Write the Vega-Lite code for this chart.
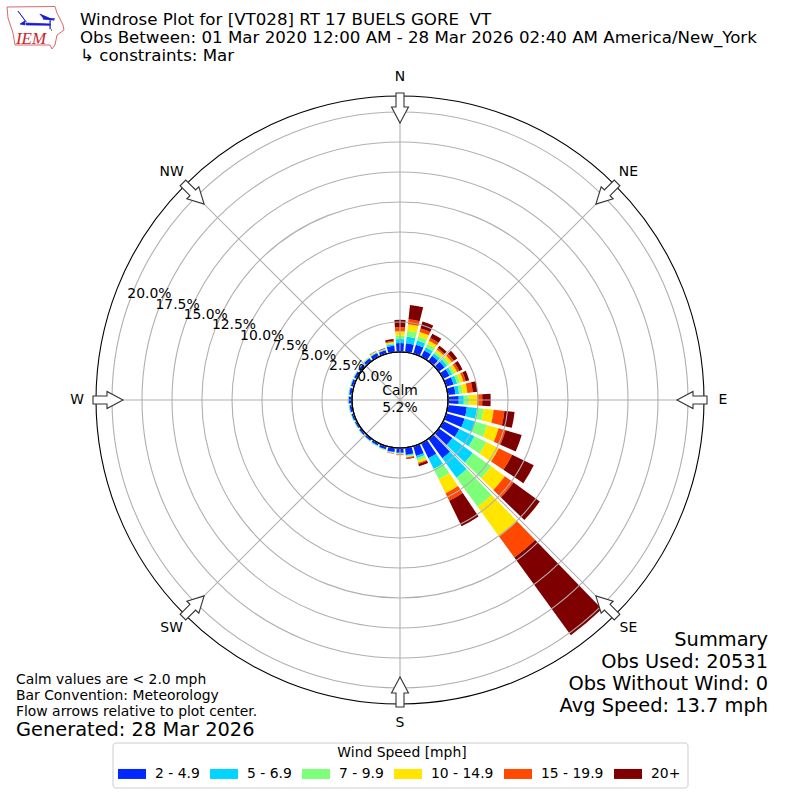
{
  "$schema": "https://vega.github.io/schema/vega-lite/v6.json",
  "width": 800,
  "height": 800,
  "padding": 0,
  "autosize": {"type": "none"},
  "background": "white",
  "config": {"view": {"stroke": null}, "font": "DejaVu Sans"},
  "datasets": {
    "dirs": [
      {"bearing": 0, "label": "N"}, {"bearing": 45, "label": "NE"}, {"bearing": 90, "label": "E"}, {"bearing": 135, "label": "SE"},
      {"bearing": 180, "label": "S"}, {"bearing": 225, "label": "SW"}, {"bearing": 270, "label": "W"}, {"bearing": 315, "label": "NW"}
    ],
    "rings": [
      {"pct": 0, "label": "0.0%", "bearing": 290}, {"pct": 2.5, "label": "2.5%", "bearing": 290}, {"pct": 5, "label": "5.0%", "bearing": 290},
      {"pct": 7.5, "label": "7.5%", "bearing": 290}, {"pct": 10, "label": "10.0%", "bearing": 290}, {"pct": 12.5, "label": "12.5%", "bearing": 290},
      {"pct": 15, "label": "15.0%", "bearing": 290}, {"pct": 17.5, "label": "17.5%", "bearing": 290}, {"pct": 20, "label": "20.0%", "bearing": 290}
    ],
    "bars": [
      {"dir":0,"speed":"2 - 4.9","low":2,"pct":0.75},{"dir":0,"speed":"5 - 6.9","low":5,"pct":0.33},{"dir":0,"speed":"7 - 9.9","low":7,"pct":0.3},{"dir":0,"speed":"10 - 14.9","low":10,"pct":0.35},{"dir":0,"speed":"15 - 19.9","low":15,"pct":0.35},{"dir":0,"speed":"20+","low":20,"pct":0.6},
      {"dir":10,"speed":"2 - 4.9","low":2,"pct":0.75},{"dir":10,"speed":"5 - 6.9","low":5,"pct":0.55},{"dir":10,"speed":"7 - 9.9","low":7,"pct":0.5},{"dir":10,"speed":"10 - 14.9","low":10,"pct":0.55},{"dir":10,"speed":"15 - 19.9","low":15,"pct":0.42},{"dir":10,"speed":"20+","low":20,"pct":1.2},
      {"dir":20,"speed":"2 - 4.9","low":2,"pct":0.8},{"dir":20,"speed":"5 - 6.9","low":5,"pct":0.35},{"dir":20,"speed":"7 - 9.9","low":7,"pct":0.35},{"dir":20,"speed":"10 - 14.9","low":10,"pct":0.4},{"dir":20,"speed":"15 - 19.9","low":15,"pct":0.3},{"dir":20,"speed":"20+","low":20,"pct":0.6},
      {"dir":30,"speed":"2 - 4.9","low":2,"pct":0.6},{"dir":30,"speed":"5 - 6.9","low":5,"pct":0.3},{"dir":30,"speed":"7 - 9.9","low":7,"pct":0.3},{"dir":30,"speed":"10 - 14.9","low":10,"pct":0.3},{"dir":30,"speed":"15 - 19.9","low":15,"pct":0.25},{"dir":30,"speed":"20+","low":20,"pct":0.4},
      {"dir":40,"speed":"2 - 4.9","low":2,"pct":0.55},{"dir":40,"speed":"5 - 6.9","low":5,"pct":0.25},{"dir":40,"speed":"7 - 9.9","low":7,"pct":0.2},{"dir":40,"speed":"10 - 14.9","low":10,"pct":0.2},{"dir":40,"speed":"15 - 19.9","low":15,"pct":0.15},{"dir":40,"speed":"20+","low":20,"pct":0.25},
      {"dir":50,"speed":"2 - 4.9","low":2,"pct":0.6},{"dir":50,"speed":"5 - 6.9","low":5,"pct":0.25},{"dir":50,"speed":"7 - 9.9","low":7,"pct":0.25},{"dir":50,"speed":"10 - 14.9","low":10,"pct":0.25},{"dir":50,"speed":"15 - 19.9","low":15,"pct":0.2},{"dir":50,"speed":"20+","low":20,"pct":0.35},
      {"dir":60,"speed":"2 - 4.9","low":2,"pct":0.6},{"dir":60,"speed":"5 - 6.9","low":5,"pct":0.25},{"dir":60,"speed":"7 - 9.9","low":7,"pct":0.2},{"dir":60,"speed":"10 - 14.9","low":10,"pct":0.25},{"dir":60,"speed":"15 - 19.9","low":15,"pct":0.2},{"dir":60,"speed":"20+","low":20,"pct":0.3},
      {"dir":70,"speed":"2 - 4.9","low":2,"pct":0.65},{"dir":70,"speed":"5 - 6.9","low":5,"pct":0.3},{"dir":70,"speed":"7 - 9.9","low":7,"pct":0.25},{"dir":70,"speed":"10 - 14.9","low":10,"pct":0.3},{"dir":70,"speed":"15 - 19.9","low":15,"pct":0.2},{"dir":70,"speed":"20+","low":20,"pct":0.3},
      {"dir":80,"speed":"2 - 4.9","low":2,"pct":0.65},{"dir":80,"speed":"5 - 6.9","low":5,"pct":0.3},{"dir":80,"speed":"7 - 9.9","low":7,"pct":0.3},{"dir":80,"speed":"10 - 14.9","low":10,"pct":0.4},{"dir":80,"speed":"15 - 19.9","low":15,"pct":0.45},{"dir":80,"speed":"20+","low":20,"pct":0.4},
      {"dir":90,"speed":"2 - 4.9","low":2,"pct":0.9},{"dir":90,"speed":"5 - 6.9","low":5,"pct":0.42},{"dir":90,"speed":"7 - 9.9","low":7,"pct":0.42},{"dir":90,"speed":"10 - 14.9","low":10,"pct":0.7},{"dir":90,"speed":"15 - 19.9","low":15,"pct":0.42},{"dir":90,"speed":"20+","low":20,"pct":0.7},
      {"dir":100,"speed":"2 - 4.9","low":2,"pct":1.6},{"dir":100,"speed":"5 - 6.9","low":5,"pct":0.85},{"dir":100,"speed":"7 - 9.9","low":7,"pct":0.55},{"dir":100,"speed":"10 - 14.9","low":10,"pct":0.85},{"dir":100,"speed":"15 - 19.9","low":15,"pct":0.9},{"dir":100,"speed":"20+","low":20,"pct":0.85},
      {"dir":110,"speed":"2 - 4.9","low":2,"pct":1.6},{"dir":110,"speed":"5 - 6.9","low":5,"pct":0.95},{"dir":110,"speed":"7 - 9.9","low":7,"pct":1.0},{"dir":110,"speed":"10 - 14.9","low":10,"pct":1.0},{"dir":110,"speed":"15 - 19.9","low":15,"pct":0.6},{"dir":110,"speed":"20+","low":20,"pct":1.4},
      {"dir":120,"speed":"2 - 4.9","low":2,"pct":1.5},{"dir":120,"speed":"5 - 6.9","low":5,"pct":1.4},{"dir":120,"speed":"7 - 9.9","low":7,"pct":1.1},{"dir":120,"speed":"10 - 14.9","low":10,"pct":1.15},{"dir":120,"speed":"15 - 19.9","low":15,"pct":1.25},{"dir":120,"speed":"20+","low":20,"pct":2.0},
      {"dir":130,"speed":"2 - 4.9","low":2,"pct":1.4},{"dir":130,"speed":"5 - 6.9","low":5,"pct":2.1},{"dir":130,"speed":"7 - 9.9","low":7,"pct":1.9},{"dir":130,"speed":"10 - 14.9","low":10,"pct":1.4},{"dir":130,"speed":"15 - 19.9","low":15,"pct":0.9},{"dir":130,"speed":"20+","low":20,"pct":2.7},
      {"dir":140,"speed":"2 - 4.9","low":2,"pct":2.0},{"dir":140,"speed":"5 - 6.9","low":5,"pct":2.0},{"dir":140,"speed":"7 - 9.9","low":7,"pct":3.0},{"dir":140,"speed":"10 - 14.9","low":10,"pct":3.05},{"dir":140,"speed":"15 - 19.9","low":15,"pct":2.17},{"dir":140,"speed":"20+","low":20,"pct":8.0},
      {"dir":150,"speed":"2 - 4.9","low":2,"pct":1.4},{"dir":150,"speed":"5 - 6.9","low":5,"pct":1.0},{"dir":150,"speed":"7 - 9.9","low":7,"pct":0.95},{"dir":150,"speed":"10 - 14.9","low":10,"pct":1.3},{"dir":150,"speed":"15 - 19.9","low":15,"pct":0.7},{"dir":150,"speed":"20+","low":20,"pct":2.35},
      {"dir":160,"speed":"2 - 4.9","low":2,"pct":0.85},{"dir":160,"speed":"5 - 6.9","low":5,"pct":0.2},{"dir":160,"speed":"7 - 9.9","low":7,"pct":0.2},{"dir":160,"speed":"10 - 14.9","low":10,"pct":0.2},{"dir":160,"speed":"15 - 19.9","low":15,"pct":0.1},{"dir":160,"speed":"20+","low":20,"pct":0.2},
      {"dir":170,"speed":"2 - 4.9","low":2,"pct":0.6},{"dir":170,"speed":"5 - 6.9","low":5,"pct":0.08},{"dir":170,"speed":"7 - 9.9","low":7,"pct":0.07},{"dir":170,"speed":"10 - 14.9","low":10,"pct":0.07},{"dir":170,"speed":"15 - 19.9","low":15,"pct":0.08},{"dir":170,"speed":"20+","low":20,"pct":0.05},
      {"dir":180,"speed":"2 - 4.9","low":2,"pct":0.4},{"dir":180,"speed":"5 - 6.9","low":5,"pct":0.05},{"dir":180,"speed":"7 - 9.9","low":7,"pct":0.05},{"dir":180,"speed":"10 - 14.9","low":10,"pct":0.04},{"dir":180,"speed":"15 - 19.9","low":15,"pct":0.06},
      {"dir":190,"speed":"2 - 4.9","low":2,"pct":0.35},{"dir":190,"speed":"5 - 6.9","low":5,"pct":0.05},{"dir":190,"speed":"7 - 9.9","low":7,"pct":0.04},{"dir":190,"speed":"10 - 14.9","low":10,"pct":0.03},{"dir":190,"speed":"15 - 19.9","low":15,"pct":0.03},
      {"dir":200,"speed":"2 - 4.9","low":2,"pct":0.28},{"dir":200,"speed":"5 - 6.9","low":5,"pct":0.04},{"dir":200,"speed":"7 - 9.9","low":7,"pct":0.03},{"dir":200,"speed":"10 - 14.9","low":10,"pct":0.03},
      {"dir":210,"speed":"2 - 4.9","low":2,"pct":0.22},{"dir":210,"speed":"5 - 6.9","low":5,"pct":0.04},{"dir":210,"speed":"7 - 9.9","low":7,"pct":0.04},
      {"dir":220,"speed":"2 - 4.9","low":2,"pct":0.2},{"dir":220,"speed":"5 - 6.9","low":5,"pct":0.04},{"dir":220,"speed":"7 - 9.9","low":7,"pct":0.03},{"dir":220,"speed":"10 - 14.9","low":10,"pct":0.01},
      {"dir":230,"speed":"2 - 4.9","low":2,"pct":0.2},{"dir":230,"speed":"5 - 6.9","low":5,"pct":0.04},{"dir":230,"speed":"7 - 9.9","low":7,"pct":0.02},{"dir":230,"speed":"10 - 14.9","low":10,"pct":0.01},
      {"dir":240,"speed":"2 - 4.9","low":2,"pct":0.18},{"dir":240,"speed":"5 - 6.9","low":5,"pct":0.04},{"dir":240,"speed":"7 - 9.9","low":7,"pct":0.02},{"dir":240,"speed":"10 - 14.9","low":10,"pct":0.01},
      {"dir":250,"speed":"2 - 4.9","low":2,"pct":0.2},{"dir":250,"speed":"5 - 6.9","low":5,"pct":0.04},{"dir":250,"speed":"7 - 9.9","low":7,"pct":0.02},{"dir":250,"speed":"10 - 14.9","low":10,"pct":0.01},
      {"dir":260,"speed":"2 - 4.9","low":2,"pct":0.22},{"dir":260,"speed":"5 - 6.9","low":5,"pct":0.05},{"dir":260,"speed":"7 - 9.9","low":7,"pct":0.03},{"dir":260,"speed":"10 - 14.9","low":10,"pct":0.02},
      {"dir":270,"speed":"2 - 4.9","low":2,"pct":0.27},{"dir":270,"speed":"5 - 6.9","low":5,"pct":0.05},{"dir":270,"speed":"7 - 9.9","low":7,"pct":0.03},{"dir":270,"speed":"10 - 14.9","low":10,"pct":0.02},
      {"dir":280,"speed":"2 - 4.9","low":2,"pct":0.25},{"dir":280,"speed":"5 - 6.9","low":5,"pct":0.05},{"dir":280,"speed":"7 - 9.9","low":7,"pct":0.03},{"dir":280,"speed":"10 - 14.9","low":10,"pct":0.02},
      {"dir":290,"speed":"2 - 4.9","low":2,"pct":0.25},{"dir":290,"speed":"5 - 6.9","low":5,"pct":0.05},{"dir":290,"speed":"7 - 9.9","low":7,"pct":0.03},{"dir":290,"speed":"10 - 14.9","low":10,"pct":0.02},
      {"dir":300,"speed":"2 - 4.9","low":2,"pct":0.25},{"dir":300,"speed":"5 - 6.9","low":5,"pct":0.05},{"dir":300,"speed":"7 - 9.9","low":7,"pct":0.03},{"dir":300,"speed":"10 - 14.9","low":10,"pct":0.02},
      {"dir":310,"speed":"2 - 4.9","low":2,"pct":0.28},{"dir":310,"speed":"5 - 6.9","low":5,"pct":0.05},{"dir":310,"speed":"7 - 9.9","low":7,"pct":0.03},{"dir":310,"speed":"10 - 14.9","low":10,"pct":0.02},
      {"dir":320,"speed":"2 - 4.9","low":2,"pct":0.3},{"dir":320,"speed":"5 - 6.9","low":5,"pct":0.05},{"dir":320,"speed":"7 - 9.9","low":7,"pct":0.04},{"dir":320,"speed":"10 - 14.9","low":10,"pct":0.03},
      {"dir":330,"speed":"2 - 4.9","low":2,"pct":0.35},{"dir":330,"speed":"5 - 6.9","low":5,"pct":0.06},{"dir":330,"speed":"7 - 9.9","low":7,"pct":0.05},{"dir":330,"speed":"10 - 14.9","low":10,"pct":0.05},{"dir":330,"speed":"15 - 19.9","low":15,"pct":0.02},{"dir":330,"speed":"20+","low":20,"pct":0.02},
      {"dir":340,"speed":"2 - 4.9","low":2,"pct":0.32},{"dir":340,"speed":"5 - 6.9","low":5,"pct":0.05},{"dir":340,"speed":"7 - 9.9","low":7,"pct":0.04},{"dir":340,"speed":"10 - 14.9","low":10,"pct":0.03},{"dir":340,"speed":"15 - 19.9","low":15,"pct":0.03},{"dir":340,"speed":"20+","low":20,"pct":0.03},
      {"dir":350,"speed":"2 - 4.9","low":2,"pct":0.55},{"dir":350,"speed":"5 - 6.9","low":5,"pct":0.12},{"dir":350,"speed":"7 - 9.9","low":7,"pct":0.1},{"dir":350,"speed":"10 - 14.9","low":10,"pct":0.1},{"dir":350,"speed":"15 - 19.9","low":15,"pct":0.1},{"dir":350,"speed":"20+","low":20,"pct":0.15}
    ]
  },
  "resolve": {"scale": {"theta": "independent"}},
  "layer": [
    {
      "data": {"name": "bars"},
      "transform": [{"stack": "pct", "groupby": ["dir"], "sort": [{"field": "low", "order": "ascending"}], "as": ["r0", "r1"]}],
      "mark": {"type": "arc"},
      "encoding": {
        "theta": {"field": "dir", "type": "ordinal", "stack": null, "scale": {"type": "band", "domain": [0,10,20,30,40,50,60,70,80,90,100,110,120,130,140,150,160,170,180,190,200,210,220,230,240,250,260,270,280,290,300,310,320,330,340,350], "range": [-0.08727, 6.19592], "paddingInner": 0.2, "paddingOuter": 0.1}},
        "radius": {"field": "r1", "type": "quantitative", "stack": null, "scale": {"type": "linear", "domain": [-4, 21.333], "range": [0, 304], "zero": false}},
        "radius2": {"field": "r0"},
        "color": {
          "field": "speed", "type": "nominal",
          "scale": {"domain": ["2 - 4.9", "5 - 6.9", "7 - 9.9", "10 - 14.9", "15 - 19.9", "20+"], "range": ["#0028ff", "#00d4ff", "#7dff7a", "#ffe500", "#ff4800", "#7f0000"]},
          "legend": {
            "title": "Wind Speed [mph]", "orient": "none", "legendX": 124, "legendY": 746, "direction": "horizontal", "columns": 6,
            "titleAnchor": "middle", "titleFontWeight": "normal", "titleFontSize": 13.9, "titleFont": "DejaVu Sans", "titleColor": "black", "titlePadding": 6,
            "labelFontSize": 13.9, "labelFont": "DejaVu Sans", "labelColor": "black", "labelOffset": 15, "columnPadding": 10,
            "symbolType": "M-1.75,-0.625H1.75V0.625H-1.75Z", "symbolSize": 256, "symbolStrokeWidth": 0, "symbolOpacity": 1,
            "padding": 0
          }
        }
      }
    },
    {
      "data": {"name": "rings"},
      "mark": {"type": "arc", "theta": 0, "theta2": 6.2832, "fill": null, "stroke": "#b0b0b0", "strokeWidth": 1.1},
      "encoding": {"radius": {"field": "pct", "type": "quantitative", "stack": null}}
    },
    {
      "data": {"name": "dirs"},
      "mark": {"type": "point", "filled": false, "opacity": 1, "shape": "M0,0L0,-0.76", "size": 640000, "stroke": "#b0b0b0", "strokeWidth": 1.1},
      "encoding": {"angle": {"field": "bearing", "type": "quantitative", "scale": null}}
    },
    {
      "data": {"values": [{"pct": 21.333}]},
      "mark": {"type": "arc", "theta": 0, "theta2": 6.2832, "fill": null, "stroke": "black", "strokeWidth": 1.1},
      "encoding": {"radius": {"field": "pct", "type": "quantitative", "stack": null}}
    },
    {
      "data": {"values": [{"pct": 0}]},
      "mark": {"type": "arc", "theta": 0, "theta2": 6.2832, "fill": "white", "stroke": "black", "strokeWidth": 1.1},
      "encoding": {"radius": {"field": "pct", "type": "quantitative", "stack": null}}
    },
    {
      "data": {"name": "dirs"},
      "mark": {"type": "point", "filled": true, "opacity": 1, "fill": "white", "stroke": "#333333", "strokeWidth": 1.1, "size": 640000,
        "shape": "M0,-0.6925L0.02125,-0.7325L0.01,-0.7325L0.01,-0.7675L-0.01,-0.7675L-0.01,-0.7325L-0.02125,-0.7325Z"},
      "encoding": {"angle": {"field": "bearing", "type": "quantitative", "scale": null}}
    },
    {
      "data": {"name": "dirs"},
      "mark": {"type": "text", "fontSize": 13.9, "align": "center", "baseline": "middle", "color": "black"},
      "encoding": {
        "theta": {"field": "bearing", "type": "quantitative", "stack": null, "scale": {"domain": [0, 360], "range": [0, 6.28319]}},
        "radius": {"value": 323},
        "text": {"field": "label"}
      }
    },
    {
      "data": {"name": "rings"},
      "mark": {"type": "text", "fontSize": 13.9, "align": "center", "baseline": "middle", "color": "black", "dx": 20, "dy": -7},
      "encoding": {
        "theta": {"field": "bearing", "type": "quantitative", "stack": null, "scale": {"domain": [0, 360], "range": [0, 6.28319]}},
        "radius": {"field": "pct", "type": "quantitative", "stack": null},
        "text": {"field": "label"}
      }
    },
    {
      "data": {"values": [{"note": "calm"}]},
      "mark": {"type": "text", "text": ["Calm", "5.2%"], "fontSize": 13.9, "align": "center", "baseline": "middle", "lineHeight": 16.5, "color": "black", "dy": -9}
    },
    {
      "data": {"values": [{"note": "title"}]},
      "mark": {"type": "text", "text": ["Windrose Plot for [VT028] RT 17 BUELS GORE \u00a0VT", "Obs Between: 01 Mar 2020 12:00 AM - 28 Mar 2026 02:40 AM America/New_York", "\u00a0↳ constraints: Mar"], "x": 80, "y": 20, "fontSize": 16.66, "align": "left", "baseline": "middle", "lineHeight": 18, "color": "black"}
    },
    {
      "data": {"values": [{"note": "summary"}]},
      "mark": {"type": "text", "text": ["Summary", "Obs Used: 20531", "Obs Without Wind: 0", "Avg Speed: 13.7 mph"], "x": 768, "y": 640, "fontSize": 19.4, "align": "right", "baseline": "middle", "lineHeight": 22, "color": "black"}
    },
    {
      "data": {"values": [{"note": "footer"}]},
      "mark": {"type": "text", "text": ["Calm values are < 2.0 mph", "Bar Convention: Meteorology", "Flow arrows relative to plot center."], "x": 16, "y": 680, "fontSize": 13.9, "align": "left", "baseline": "middle", "lineHeight": 16, "color": "black"}
    },
    {
      "data": {"values": [{"note": "generated"}]},
      "mark": {"type": "text", "text": "Generated: 28 Mar 2026", "x": 16, "y": 730, "fontSize": 19.4, "align": "left", "baseline": "middle", "color": "black"}
    },
    {
      "data": {"values": [{"note": "legend box"}]},
      "mark": {"type": "rect", "x": 113, "x2": 688, "y": 743, "y2": 788, "fill": "white", "stroke": "#cccccc", "strokeWidth": 1, "cornerRadius": 3}
    },
    {
      "data": {"values": [{"note": "logo"}]},
      "mark": {"type": "point", "filled": false, "opacity": 1, "x": 36, "y": 27, "size": 3600, "stroke": "#e0666a", "strokeWidth": 1,
        "shape": "M-0.967,-0.667L0.633,-0.683L0.7,-0.467L0.9,-0.067L0.933,0.1L0.7,0.267L0.633,0.6L0.533,0.733L0.467,0.6L-0.7,0.6L-0.767,0.2L-0.933,-0.3Z"}
    },
    {
      "data": {"values": [{"note": "logo"}]},
      "mark": {"type": "point", "filled": true, "opacity": 1, "x": 36, "y": 27, "size": 3600, "fill": "#1a1ad6", "stroke": "#1a1ad6", "strokeWidth": 0.8,
        "shape": "M-0.33,-0.13L0.47,-0.1L0.47,-0.06L-0.33,-0.07ZM-0.6,-0.53L-0.33,-0.17L-0.6,-0.53ZM-0.53,-0.1L-0.37,-0.2L-0.37,-0.07ZM0.13,-0.43L0.6,-0.23L0.27,-0.27ZM0.23,-0.27L0.63,-0.27L0.23,-0.27ZM0.47,-0.23L0.47,0.07L0.47,-0.23ZM0.5,0.1L0.53,0.1L0.5,0.1Z"}
    },
    {
      "data": {"values": [{"note": "logo"}]},
      "mark": {"type": "text", "text": "IEM", "x": 31, "y": 39, "font": "Liberation Serif", "fontStyle": "italic", "fontSize": 17, "align": "center", "baseline": "middle", "color": "#cc2229"}
    }
  ]
}
